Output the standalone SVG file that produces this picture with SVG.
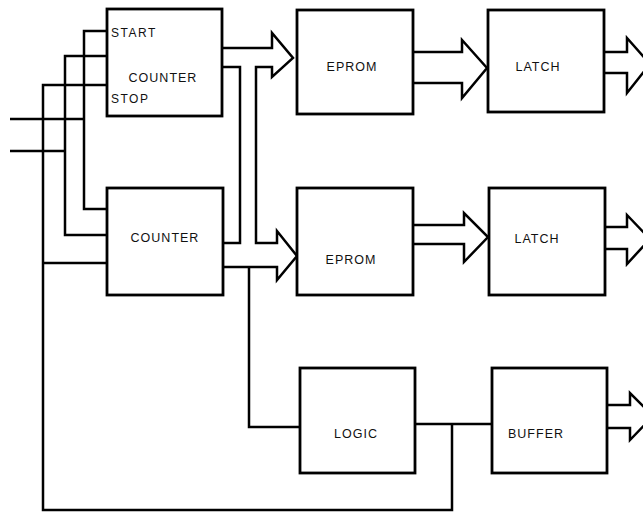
<svg xmlns="http://www.w3.org/2000/svg" width="643" height="513" viewBox="0 0 643 513">
<style>
.box{fill:#fff;stroke:#000;stroke-width:2.8}
.w{fill:none;stroke:#000;stroke-width:2.5;stroke-linejoin:miter}
.t{font-family:"Liberation Sans",Arial,sans-serif;font-size:12.5px;letter-spacing:1px;fill:#111;text-anchor:middle}
.s{text-anchor:start;letter-spacing:1.5px;font-size:12px}
</style>
<rect width="643" height="513" fill="#fff"/>
<g id="connectors">
<path class="w" d="M10,119 H84 M10,151 H65"/>
<path class="w" d="M107,31 H84 V209 H107"/>
<path class="w" d="M107,56 H65 V235 H107"/>
<path class="w" d="M107,85 H43 V510 H452 V424"/>
<path class="w" d="M43,263 H107"/>
<path class="w" d="M222,48 H272 V33 L293,58 L272,77 V67 H256 V243 H277 V231 L297,256 L277,280 V267 H223"/>
<path class="w" d="M222,67 H240 V243 H223"/>
<path class="w" d="M249,267 V427 H300"/>
<path class="w" d="M415,424 H492"/>
<path class="w" d="M413,52 H462 V40 L487,68 L462,98 V83 H413"/>
<path class="w" d="M413,225 H464 V213 L488,237 L464,262 V244 H413"/>
<path class="w" d="M604,52 H627 V38 L650,64 L627,93 V73 H604"/>
<path class="w" d="M605,227 H627 V215 L650,239 L627,264 V249 H605"/>
<path class="w" d="M607,405 H630 V393 L653,416 L630,440 V428 H607"/>
</g>
<g id="counter1">
<rect class="box" x="107" y="9" width="115" height="107"/>
<text class="t s" x="111" y="37">START</text>
<text class="t" x="163" y="82">COUNTER</text>
<text class="t s" x="111" y="103">STOP</text>
</g>
<g id="counter2">
<rect class="box" x="107" y="188" width="116" height="107"/>
<text class="t" x="165" y="242">COUNTER</text>
</g>
<g id="eprom1">
<rect class="box" x="297" y="10" width="116" height="104"/>
<text class="t" x="352" y="71">EPROM</text>
</g>
<g id="eprom2">
<rect class="box" x="297" y="188" width="116" height="107"/>
<text class="t" x="351" y="264">EPROM</text>
</g>
<g id="latch1">
<rect class="box" x="488" y="10" width="116" height="102"/>
<text class="t" x="538" y="71">LATCH</text>
</g>
<g id="latch2">
<rect class="box" x="489" y="188" width="116" height="107"/>
<text class="t" x="537" y="243">LATCH</text>
</g>
<g id="logic">
<rect class="box" x="300" y="368" width="115" height="105"/>
<text class="t" x="356" y="438">LOGIC</text>
</g>
<g id="buffer">
<rect class="box" x="492" y="368" width="115" height="105"/>
<text class="t" x="536" y="438">BUFFER</text>
</g>
</svg>
